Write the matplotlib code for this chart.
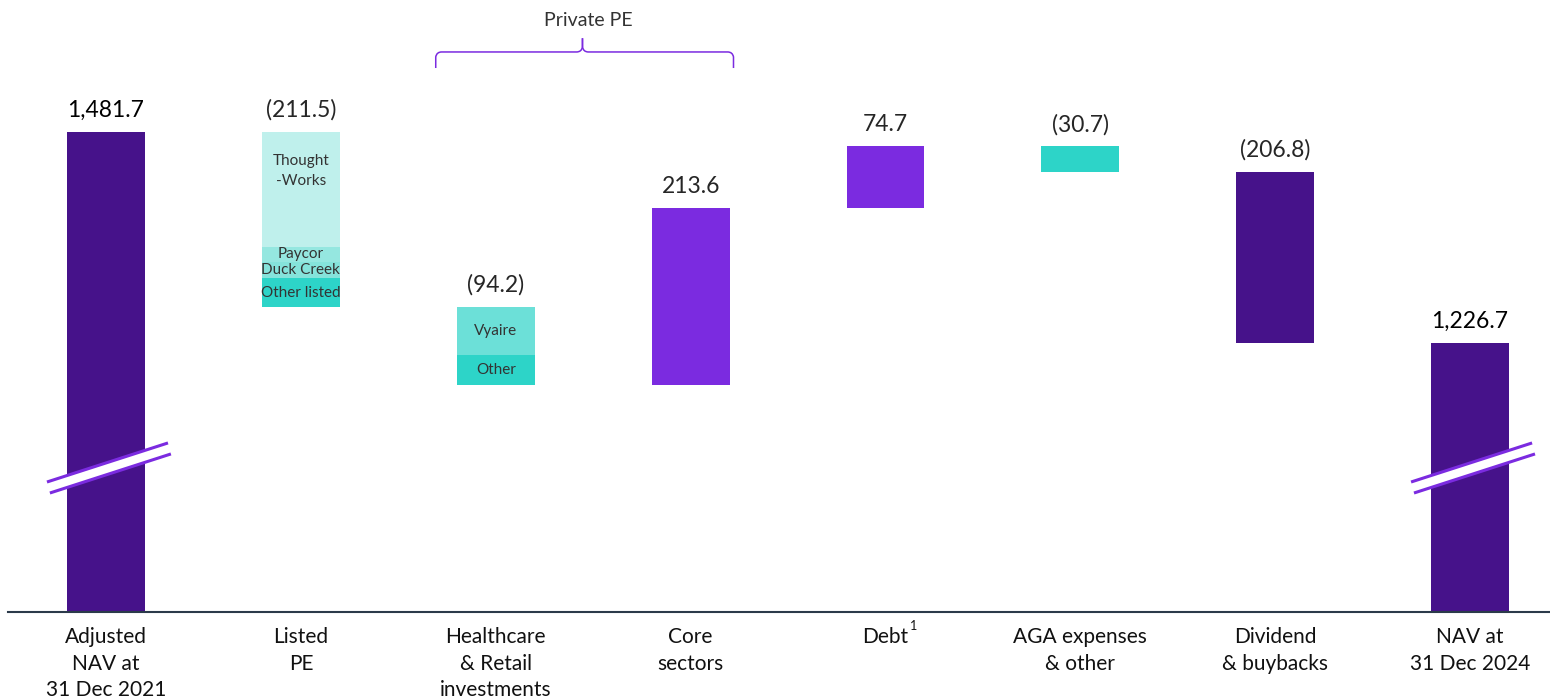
import matplotlib
matplotlib.use("Agg")
import matplotlib.pyplot as plt
from matplotlib.patches import Polygon, PathPatch
from matplotlib.path import Path

plt.rcParams['font.family'] = ['Lato', 'DejaVu Sans']

# ---- data ----
categories = ["Adjusted\nNAV at\n31 Dec 2021", "Listed\nPE", "Healthcare\n& Retail\ninvestments",
              "Core\nsectors", "Debt", "AGA expenses\n& other", "Dividend\n& buybacks",
              "NAV at\n31 Dec 2024"]
start_nav = 1481.7
end_nav = 1226.7
changes = [-211.5, -94.2, 213.6, 74.7, -30.7, -206.8]
value_labels = ["1,481.7", "(211.5)", "(94.2)", "213.6", "74.7", "(30.7)", "(206.8)", "1,226.7"]

listed_segments = ["Thought\n-Works", "Paycor", "Duck Creek", "Other listed"]
listed_values = [138.5, 19.0, 19.0, 35.0]
health_segments = ["Vyaire", "Other"]
health_values = [57.7, 36.5]

DARK = "#46128a"
BRIGHT = "#7b2be0"
TEAL = "#2dd4c8"
listed_colors = ["#bff0ec", "#95e7e0", "#85e3db", TEAL]
health_colors = ["#6ce0d8", TEAL]

fig = plt.figure(figsize=(15.5, 6.97), dpi=100)
ax = fig.add_axes([8/1550, 85/697, 1542/1550, 612/697])
ymin, ymax = 901.6, 1641.2
ax.set_ylim(ymin, ymax)
ax.set_xlim(-0.503, 7.41)
W = 0.4

# first bar
ax.bar(0, start_nav - ymin, bottom=ymin, width=W, color=DARK)
level = start_nav
tops = [start_nav]
# Listed PE segments
cur = level
for lab, v, c in zip(listed_segments, listed_values, listed_colors):
    ax.bar(1, -v, bottom=cur, width=W, color=c)
    shift = 22 if lab == "Thought\n-Works" else 0
    ax.text(1, cur - v/2 + shift, lab, ha='center', va='center',
            fontsize=11, color="#333333", linespacing=1.6)
    cur -= v
level += changes[0]
tops.append(start_nav)
# Healthcare
cur = level
for lab, v, c in zip(health_segments, health_values, health_colors):
    ax.bar(2, -v, bottom=cur, width=W, color=c)
    ax.text(2, cur - v/2, lab, ha='center', va='center', fontsize=11, color="#333333")
    cur -= v
tops.append(level)
level += changes[1]
# Core sectors
ax.bar(3, changes[2], bottom=level, width=W, color=BRIGHT)
level += changes[2]
tops.append(level)
# Debt
ax.bar(4, changes[3], bottom=level, width=W, color=BRIGHT)
level += changes[3]
tops.append(level)
# AGA
ax.bar(5, changes[4], bottom=level, width=W, color=TEAL)
tops.append(level)
level += changes[4]
# Dividend
ax.bar(6, changes[5], bottom=level, width=W, color=DARK)
tops.append(level)
level += changes[5]
# final
ax.bar(7, end_nav - ymin, bottom=ymin, width=W, color=DARK)
tops.append(end_nav)

for i, (t, lab) in enumerate(zip(tops, value_labels)):
    col = "#000000" if i in (0, 7) else "#262626"
    ax.annotate(lab, (i, t), xytext=(0, 8), textcoords='offset points', ha='center', va='bottom',
                fontsize=16.5, color=col)

# break marks
for xc in (0, 7):
    x0, x1 = xc - 0.303, xc + 0.318
    ya0, ya1 = 1058.7, 1105.9
    yb0, yb1 = 1045.4, 1092.6
    ax.add_patch(Polygon([(x0, ya0), (x1, ya1), (x1 + 0.015, yb1), (x0 + 0.015, yb0)],
                         closed=True, facecolor='white', edgecolor='none', zorder=3))
    ax.plot([x0, x1], [ya0, ya1], color=BRIGHT, lw=2.2, zorder=4, solid_capstyle='butt')
    ax.plot([x0 + 0.015, x1 + 0.015], [yb0, yb1], color=BRIGHT, lw=2.2, zorder=4, solid_capstyle='butt')

# brace over private PE
bx0, bx1, bmid = 1.692, 3.22, 2.445
yb, yend, ytip = 1578.4, 1559.0, 1595.0
r = 0.03
verts = [(bx0, yend), (bx0, yb - 6), (bx0 + 0.005, yb), (bx0 + r, yb),
         (bmid - r, yb), (bmid - 0.005, yb), (bmid, yb + 6), (bmid, ytip)]
codes = [Path.MOVETO, Path.LINETO, Path.CURVE3, Path.CURVE3, Path.LINETO, Path.CURVE3, Path.CURVE3, Path.LINETO]
verts2 = [(bx1, yend), (bx1, yb - 6), (bx1 - 0.005, yb), (bx1 - r, yb),
          (bmid + r, yb), (bmid + 0.005, yb), (bmid, yb + 6), (bmid, ytip)]
for v in (verts, verts2):
    ax.add_patch(PathPatch(Path(v, codes), facecolor='none', edgecolor=BRIGHT, lw=1.1))
ax.text(bmid + 0.03, 1616, "Private PE", ha='center', va='center', fontsize=14, color="#333333")

# axis
for s in ("top", "right", "left"):
    ax.spines[s].set_visible(False)
ax.spines['bottom'].set_color("#2b3a4a")
ax.spines['bottom'].set_linewidth(1.5)
ax.set_yticks([])
ax.set_xticks(range(len(categories)))
ax.set_xticklabels(categories, fontsize=15, color="#111111", linespacing=1.4, va='top')
ax.tick_params(axis='x', length=0, pad=11)
ax.text(4.144, -0.023, "1", transform=ax.get_xaxis_transform(), fontsize=9, color="#111111",
        ha='center', va='center')

fig.savefig("out.png", dpi=100)
